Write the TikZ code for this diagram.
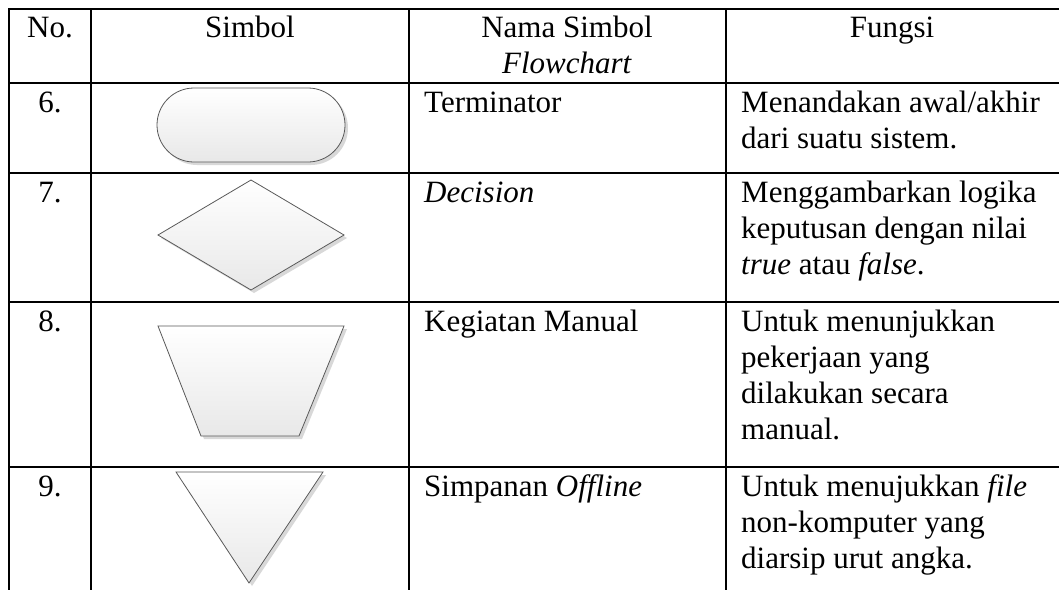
\documentclass[tikz,border=0pt]{standalone}
\usepackage{fontspec}
\setmainfont{Liberation Serif}
\usetikzlibrary{shadows}

\newcommand\cellfont{\fontsize{31}{36}\selectfont}

\begin{document}
\begin{tikzpicture}[
    x=1pt, y=-1pt,
    rule/.style={line width=2pt},
    cell/.style={inner sep=0pt, font=\cellfont, align=left, anchor=base west},
    headcell/.style={inner sep=0pt, font=\cellfont, align=center, anchor=base},
    symbolshape/.style={draw=black!65, line width=0.8pt, top color=white, bottom color=black!9,
        drop shadow={shadow xshift=3pt, shadow yshift=-3pt, fill=black!30, opacity=0.5}}
]
\useasboundingbox (0,0) rectangle (1059,590);

% Grid
\foreach \y in {9,83,173,302,467}
    \draw[rule] (8,\y) -- (1059,\y);
\foreach \x in {9,91,409,726}
    \draw[rule] (\x,8) -- (\x,590);

% Header (base anchor sits on the last line)
\node[headcell] (hno) at (50,37) {No.};
\node[headcell] (hsym) at (250,37) {Simbol};
\node[headcell] (hname) at (567,73) {Nama Simbol\\\textit{Flowchart}};
\node[headcell] (hfunc) at (892,37) {Fungsi};

% Numbers
\node[headcell] (no6) at (50,112) {6.};
\node[headcell] (no7) at (50,202) {7.};
\node[headcell] (no8) at (50,331) {8.};
\node[headcell] (no9) at (50,496) {9.};

% Names
\node[cell] (name6) at (424,112) {Terminator};
\node[cell] (name7) at (424,202) {\textit{Decision}};
\node[cell] (name8) at (424,331) {Kegiatan Manual};
\node[cell] (name9) at (424,496) {Simpanan \textit{Offline}};

% Functions
\node[cell] (func6) at (741,148) {Menandakan awal/akhir\\dari suatu sistem.};
\node[cell] (func7) at (741,274) {Menggambarkan logika\\keputusan dengan nilai\\\textit{true} atau \textit{false}.};
\node[cell] (func8) at (741,439) {Untuk menunjukkan\\pekerjaan yang\\dilakukan secara\\manual.};
\node[cell] (func9) at (741,568) {Untuk menujukkan \textit{file}\\non-komputer yang\\diarsip urut angka.};

% Symbols
\draw[symbolshape, rounded corners=37pt] (157,88) rectangle (345,162);
\draw[symbolshape] (251,180) -- (344,235) -- (251,290) -- (158,235) -- cycle;
\draw[symbolshape] (158,326) -- (344,326) -- (299,436) -- (201,436) -- cycle;
\draw[symbolshape] (176,472) -- (323,472) -- (249,583) -- cycle;

\end{tikzpicture}
\end{document}
